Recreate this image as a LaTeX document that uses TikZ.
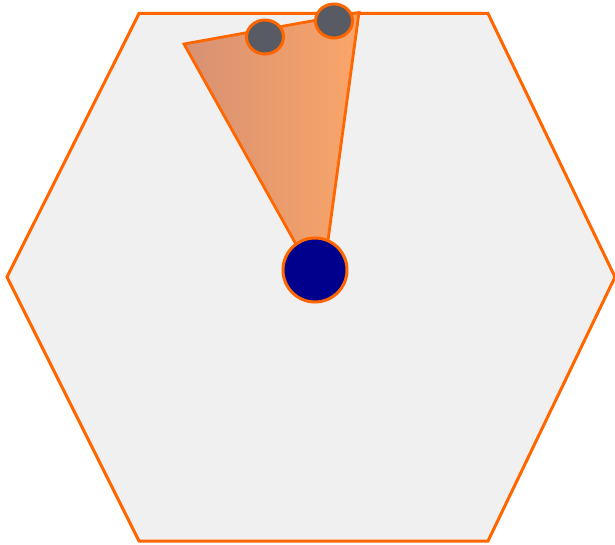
\documentclass[tikz,border=0pt]{standalone}
\definecolor{edgeor}{RGB}{255,102,0}
\definecolor{hexfill}{RGB}{240,240,240}
\definecolor{navyc}{RGB}{0,0,140}
\definecolor{greyc}{RGB}{88,90,100}
\definecolor{wedgeL}{RGB}{215,145,115}
\definecolor{wedgeR}{RGB}{250,165,105}
\tikzset{
  hexbox/.style={draw=edgeor, fill=hexfill, line width=3pt, line join=miter},
  wedgebox/.style={draw=edgeor, line width=2.8pt, left color=wedgeL, right color=wedgeR, line join=miter},
  hub/.style={circle, draw=edgeor, fill=navyc, line width=3pt, minimum size=64pt, inner sep=0pt},
  dot/.style={ellipse, draw=edgeor, fill=greyc, line width=3pt, minimum width=37pt, minimum height=34pt, inner sep=0pt}
}
\usetikzlibrary{shapes.geometric}
\begin{document}
\begin{tikzpicture}[x=1pt,y=-1pt]
\useasboundingbox (0,0) rectangle (615,545);
\coordinate (h1) at (139,13.5);
\coordinate (h2) at (488,13.5);
\coordinate (h3) at (615,277);
\coordinate (h4) at (488,541);
\coordinate (h5) at (139,541);
\coordinate (h6) at (7,277);
\draw[hexbox] (h1) -- (h2) -- (h3) -- (h4) -- (h5) -- (h6) -- cycle;
\coordinate (w1) at (184,44);
\coordinate (w2) at (359,12.5);
\coordinate (w3) at (326,255);
\coordinate (w4) at (302,255);
\draw[wedgebox] (w4) -- (w1) -- (w2) -- (w3);
\node[hub] (c) at (315,270) {};
\node[dot] (e1) at (265,37) {};
\node[dot] (e2) at (334,21) {};
\end{tikzpicture}
\end{document}
